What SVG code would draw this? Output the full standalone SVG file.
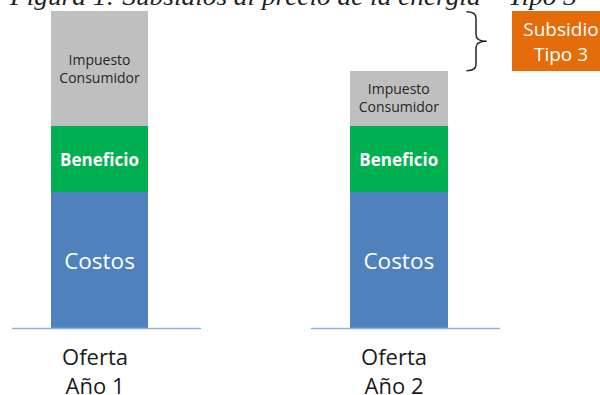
<svg xmlns="http://www.w3.org/2000/svg" width="600" height="395" viewBox="0 0 600 395">
<style>
.sans{font-family:"Open Sans","Noto Sans","Liberation Sans",sans-serif;text-anchor:middle}
.gray{fill:#bfbfbf}.green{fill:#00b050}.blue{fill:#4f81bd}
.tax{font-size:14px;fill:#262626}
.ben{font-size:17px;font-weight:bold;fill:#ffffff}
.cost{font-size:22.5px;fill:#ffffff}
.lab{font-size:22px;fill:#1a1a1a}
.axis{stroke:#8eb4e3;stroke-width:1.5}
</style>
<text x="10" y="4.5" font-family="'Liberation Serif',serif" font-style="italic" font-size="26" fill="#222" textLength="567" lengthAdjust="spacingAndGlyphs">Figura 1: Subsidios al precio de la energía – Tipo 3</text>
<g id="bar1">
<rect class="gray" x="51" y="11" width="97" height="115"/>
<rect class="green" x="51" y="126" width="97" height="66"/>
<rect class="blue" x="51" y="192" width="97" height="136"/>
<text class="sans tax" x="99.5" y="64.5">Impuesto</text>
<text class="sans tax" x="99.5" y="82.5">Consumidor</text>
<text class="sans ben" x="99.5" y="165.5">Beneficio</text>
<text class="sans cost" x="99.5" y="268.5">Costos</text>
<line class="axis" x1="12" y1="328.5" x2="201" y2="328.5"/>
<text class="sans lab" x="95" y="364.5">Oferta</text>
<text class="sans lab" x="95" y="394">Año 1</text>
</g>
<g id="bar2">
<rect class="gray" x="350" y="71" width="98" height="55"/>
<rect class="green" x="350" y="126" width="98" height="66"/>
<rect class="blue" x="350" y="192" width="98" height="136"/>
<text class="sans tax" x="398.8" y="94">Impuesto</text>
<text class="sans tax" x="398.8" y="111.7">Consumidor</text>
<text class="sans ben" x="398.8" y="165.5">Beneficio</text>
<text class="sans cost" x="398.8" y="268.5">Costos</text>
<line class="axis" x1="311" y1="328.5" x2="500" y2="328.5"/>
<text class="sans lab" x="394" y="364.5">Oferta</text>
<text class="sans lab" x="394" y="394">Año 2</text>
</g>
<g id="connectors">
<path d="M466.5,11.7 Q476,11.7 476,18 L476,35 Q476,41.3 486.7,41.3 Q476,41.3 476,47.6 L476,64.5 Q476,70.7 466.5,70.7" fill="none" stroke="#262626" stroke-width="1.5"/>
</g>
<g id="subsidio">
<rect x="512" y="11" width="98" height="60" fill="#e46c0a"/>
<text class="sans" x="561" y="35.5" font-size="19" fill="#ffffff">Subsidio</text>
<text class="sans" x="561" y="60.5" font-size="19" fill="#ffffff">Tipo 3</text>
</g>
</svg>
